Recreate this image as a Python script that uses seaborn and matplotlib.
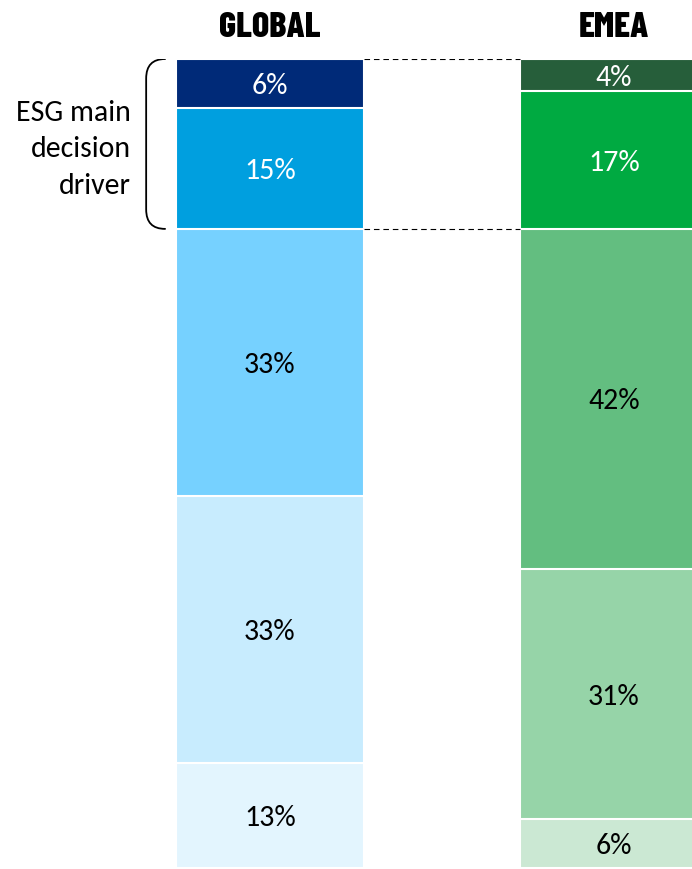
import matplotlib
matplotlib.use("Agg")
import matplotlib.pyplot as plt
from matplotlib.path import Path
from matplotlib.patches import PathPatch
import numpy as np
import pandas as pd
import seaborn as sns

# Share of respondents per answer level, listed from top segment to bottom
regions = ["GLOBAL", "EMEA"]
levels = ["L1", "L2", "L3", "L4", "L5"]
global_vals = [6, 15, 33, 33, 13]
emea_vals = [4, 17, 42, 31, 6]

global_colors = ["#002a78", "#009fdf", "#76d1ff", "#c8ecfe", "#e3f5fe"]
emea_colors = ["#265e3a", "#00aa41", "#63be80", "#96d4a8", "#cbe8d3"]
text_colors = ["white", "white", "black", "black", "black"]

sns.set_theme(style="white")
plt.rcParams["font.family"] = ["Carlito", "DejaVu Sans"]

fig = plt.figure(figsize=(6.92, 8.70), dpi=100)
ax = fig.add_axes([0, 1 / 870, 1, 809 / 870])

n = len(levels)
bar_w = 0.544
for i in range(n):
    # segment i (top-first order) reaches the cumulative sum from the bottom up to it
    g_top = sum(global_vals[i:])
    e_top = sum(emea_vals[i:])
    layer = pd.DataFrame({"region": regions, "top": [g_top, e_top]})
    sns.barplot(data=layer, x="region", y="top", hue="region",
                palette=[global_colors[i], emea_colors[i]], legend=False,
                saturation=1, width=bar_w, edgecolor="white", linewidth=1.5,
                order=regions, hue_order=regions, ax=ax)

# Value labels centred in each segment
for xi, vals in enumerate([global_vals, emea_vals]):
    for i, v in enumerate(vals):
        top = sum(vals[i:])
        ax.text(xi, top - v / 2 - 0.2, f"{v}%", ha="center", va="center",
                fontsize=21.5, color=text_colors[i])

# Region titles
for xi, name in enumerate(regions):
    ax.text(xi, 100 + 23 / 8.09, name, ha="center", va="baseline",
            fontsize=26, fontweight=800,
            family=["Barlow Condensed", "DejaVu Sans"], color="black")

# Dashed connectors linking the ESG-driven part of both bars
driver_g = global_vals[0] + global_vals[1]
driver_e = emea_vals[0] + emea_vals[1]
x_l = bar_w / 2
x_r = 1 - bar_w / 2
ax.plot([x_l, x_r], [100, 100], color="black", lw=0.8, ls=(0, (5, 3.5)))
ax.plot([x_l, x_r], [100 - driver_g, 100 - driver_e], color="black",
        lw=0.8, ls=(0, (5, 3.5)))

# Bracket around the ESG main decision driver segments
x0, x1 = -0.36, -0.305
top, bot = 100, 100 - driver_g
r = 2.4
verts = [(x1, top), (x0, top), (x0, top - r),
         (x0, bot + r),
         (x0, bot), (x1, bot)]
codes = [Path.MOVETO, Path.CURVE3, Path.CURVE3,
         Path.LINETO, Path.CURVE3, Path.CURVE3]
ax.add_patch(PathPatch(Path(verts, codes), fill=False, lw=1.3,
                       edgecolor="black", capstyle="round"))

ax.text(-0.405, 88.95, "ESG main\ndecision\ndriver",
        ha="right", va="center", fontsize=21.5, linespacing=1.5, color="black")

ax.set_xlim(-270 / 344, (692 - 270) / 344)
ax.set_ylim(0, 100)
ax.set_axis_off()

fig.savefig("out.png", dpi=100)
